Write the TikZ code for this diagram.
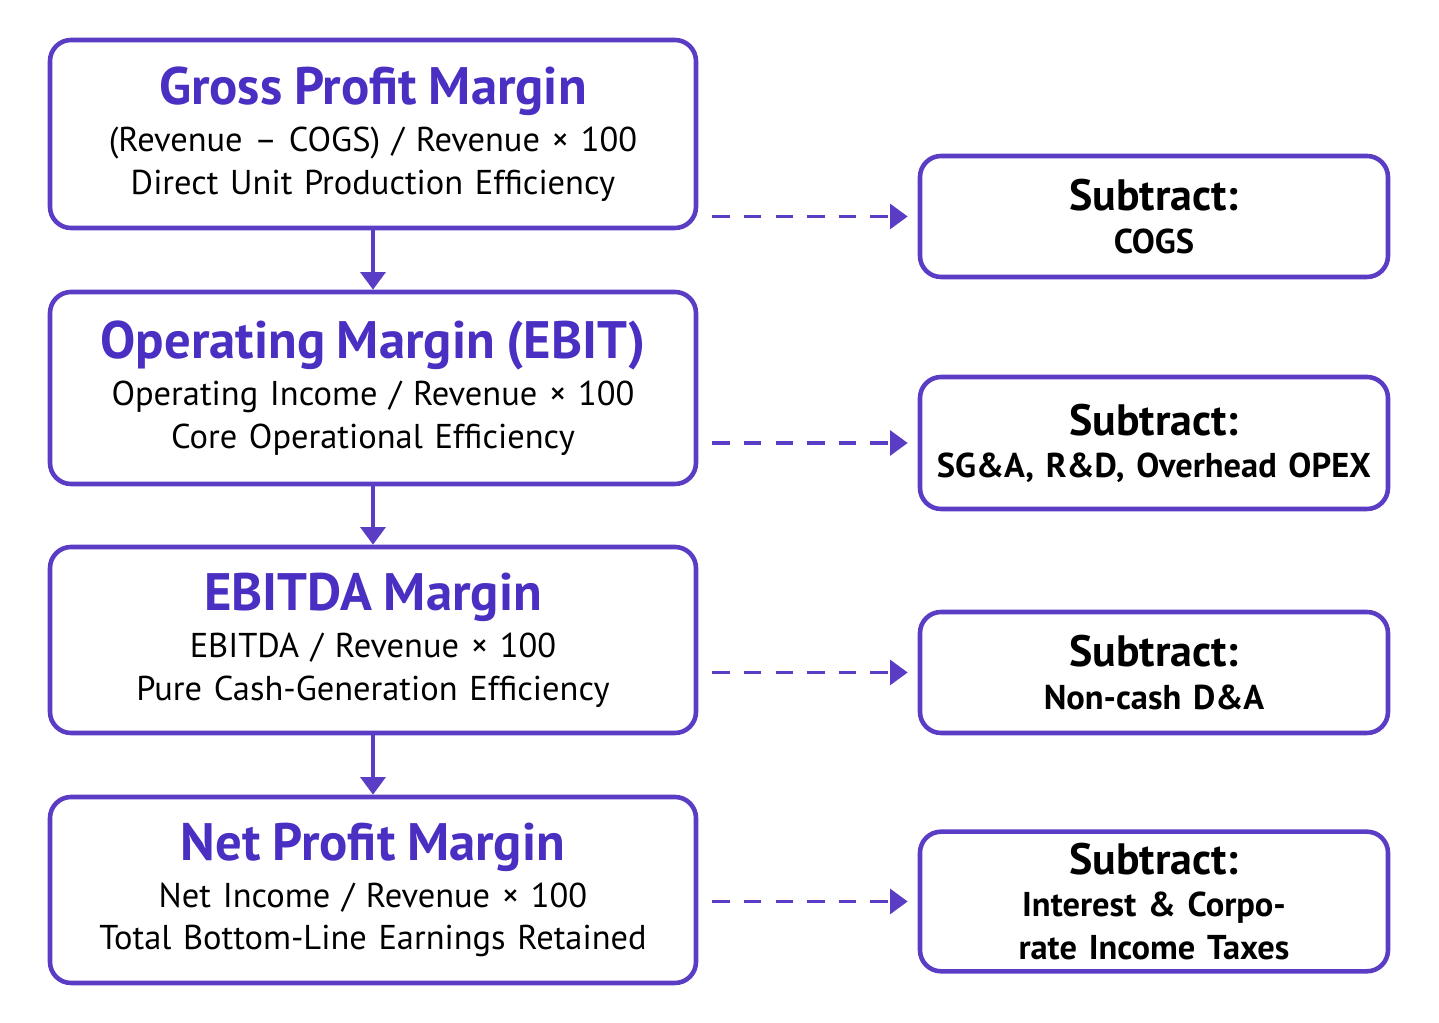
\documentclass[tikz,border=0pt]{standalone}
\usepackage{fontspec}
\setmainfont{PT Sans}
\usetikzlibrary{arrows.meta}
\definecolor{purp}{HTML}{5B3CC4}
\definecolor{titlec}{HTML}{4B2EC2}
\tikzset{
  metric/.style={draw=purp, line width=1.3pt, rounded corners=6pt, inner xsep=0pt, text width=6.46cm, align=center},
  cut/.style={draw=purp, line width=1.3pt, rounded corners=6pt, inner xsep=0pt, text width=4.68cm, align=center},
  flow/.style={-{Triangle[length=5pt,width=7pt]}, purp, line width=1.3pt},
  sub/.style={-{Triangle[length=5pt,width=7pt]}, purp, line width=1.1pt, dash pattern=on 5pt off 4pt}
}
\newcommand{\ttl}[1]{{\fontsize{15}{20}\selectfont\bfseries\color{titlec}#1}}
\newcommand{\bdy}{\fontsize{9.8}{13.5}\selectfont}
\begin{document}
\begin{tikzpicture}
\useasboundingbox (0,0) rectangle (14.39,-10.23);
\node[metric, minimum height=1.88cm] (gpm) at (3.73,-1.34) {\ttl{Gross Profit Margin}\\ \bdy (Revenue -- COGS) / Revenue × 100\\ \bdy Direct Unit Production Efficiency};
\node[metric, minimum height=1.92cm] (om) at (3.73,-3.88) {\ttl{Operating Margin (EBIT)}\\ \bdy Operating Income / Revenue × 100\\ \bdy Core Operational Efficiency};
\node[metric, minimum height=1.86cm] (em) at (3.73,-6.40) {\ttl{EBITDA Margin}\\ \bdy EBITDA / Revenue × 100\\ \bdy Pure Cash-Generation Efficiency};
\node[metric, minimum height=1.86cm] (npm) at (3.73,-8.90) {\ttl{Net Profit Margin}\\ \bdy Net Income / Revenue × 100\\ \bdy Total Bottom-Line Earnings Retained};

\node[cut, minimum height=1.21cm] (s1) at (11.54,-2.165) {\fontsize{12.5}{16}\selectfont\bfseries Subtract:\\ \bdy COGS};
\node[cut, minimum height=1.32cm] (s2) at (11.54,-4.43) {\fontsize{12.5}{16}\selectfont\bfseries Subtract:\\ \bdy SG\&A, R\&D, Overhead OPEX};
\node[cut, minimum height=1.21cm] (s3) at (11.54,-6.725) {\fontsize{12.5}{16}\selectfont\bfseries Subtract:\\ \bdy Non-cash D\&A};
\node[cut, minimum height=1.27cm] (s4) at (11.54,-9.015) {\fontsize{12.5}{16}\selectfont\bfseries Subtract:\\ \bdy Interest \& Corporate Income Taxes};

\draw[flow] (gpm.south) -- (om.north);
\draw[flow] (om.south) -- (em.north);
\draw[flow] (em.south) -- (npm.north);

\draw[sub] ([xshift=0.14cm]gpm.east |- s1.west) -- ([xshift=-0.1cm]s1.west);
\draw[sub] ([xshift=0.14cm]om.east |- s2.west) -- ([xshift=-0.1cm]s2.west);
\draw[sub] ([xshift=0.14cm]em.east |- s3.west) -- ([xshift=-0.1cm]s3.west);
\draw[sub] ([xshift=0.14cm]npm.east |- s4.west) -- ([xshift=-0.1cm]s4.west);
\end{tikzpicture}
\end{document}
